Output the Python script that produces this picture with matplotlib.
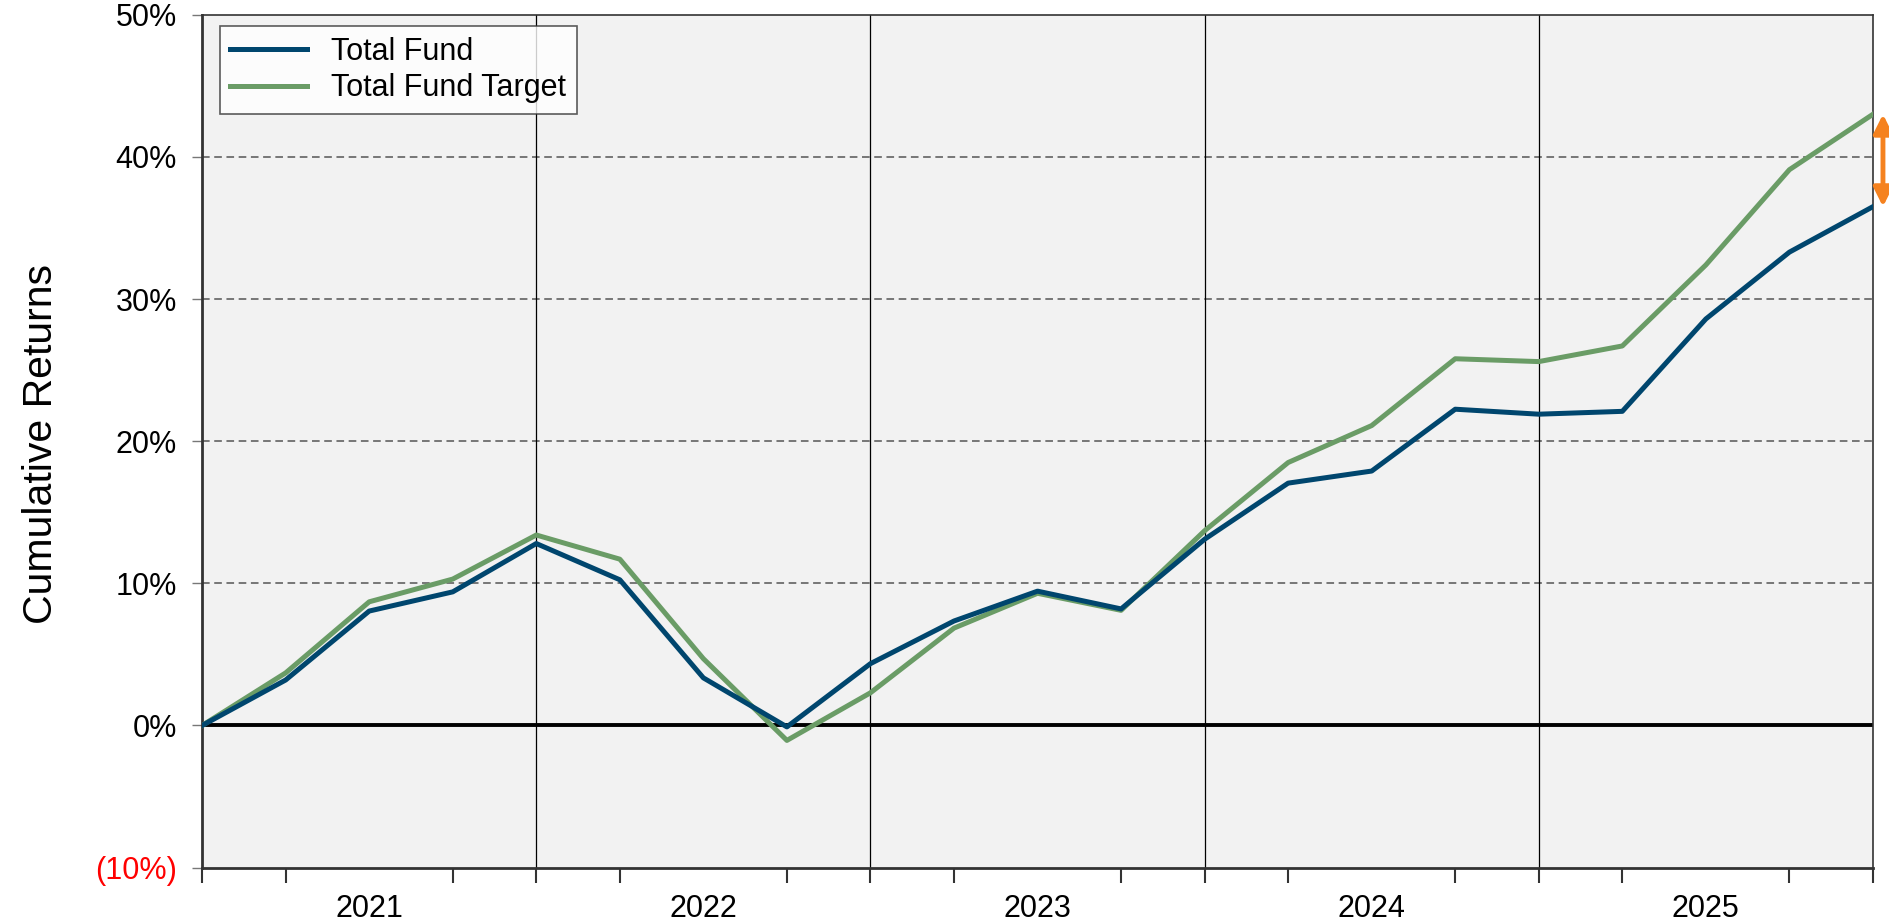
import numpy as np
import matplotlib
matplotlib.use('Agg')
import matplotlib.pyplot as plt
import matplotlib.transforms as mtransforms

plt.rcParams['font.family'] = ['Liberation Sans', 'DejaVu Sans']

# quarter-end cumulative returns (%), start point + 20 quarters 2021-2025
total_fund = [0.0, 3.2, 8.05, 9.4, 12.8, 10.25, 3.35, -0.1, 4.35, 7.35, 9.45,
              8.2, 13.1, 17.05, 17.9, 22.25, 21.9, 22.1, 28.6, 33.3, 36.5]
fund_target = [0.0, 3.7, 8.7, 10.3, 13.4, 11.7, 4.7, -1.05, 2.3, 6.85, 9.3,
               8.1, 13.7, 18.5, 21.1, 25.8, 25.6, 26.7, 32.4, 39.1, 43.0]
years = ['2021', '2022', '2023', '2024', '2025']
y_ticks = [-10, 0, 10, 20, 30, 40, 50]
y_labels = ['(10%)', '0%', '10%', '20%', '30%', '40%', '50%']

blue = '#00466E'
green = '#6A9C66'
orange = '#F5821F'

x = np.arange(len(total_fund))

fig = plt.figure(figsize=(18.89, 9.23), dpi=100)
ax = fig.add_axes([0.107, 0.060, 0.8845, 0.924])
ax.set_facecolor('#F2F2F2')

# grid: dashed horizontals, solid verticals at year ends
for v in [10, 20, 30, 40]:
    ax.axhline(v, color='#555555', lw=1.1, ls=(0, (5, 3)), zorder=1)
for q in [4, 8, 12, 16]:
    ax.axvline(q, color='black', lw=0.9, zorder=1)
ax.axhline(0, color='black', lw=2.8, zorder=2)

ax.plot(x, total_fund, color=blue, lw=3.6, label='Total Fund', zorder=4)
ax.plot(x, fund_target, color=green, lw=3.6, label='Total Fund Target', zorder=3)

ax.set_xlim(0, 20)
ax.set_ylim(-10, 50)

ax.set_yticks(y_ticks)
ax.set_yticklabels(y_labels, fontsize=22)
ax.get_yticklabels()[0].set_color('red')
ax.tick_params(axis='y', length=7, width=1, color='#777777', pad=11)

ax.set_xticks(np.arange(0, 21), minor=True)
ax.set_xticks([2, 6, 10, 14, 18])
ax.set_xticklabels(years, fontsize=22)
ax.tick_params(axis='x', which='major', length=0, pad=19)
ax.tick_params(axis='x', which='minor', length=11, width=1.5, color='#333333')

for s in ax.spines.values():
    s.set_color('#333333')
    s.set_linewidth(1.2)
ax.spines['left'].set_linewidth(2)
ax.spines['bottom'].set_linewidth(2)

ax.set_ylabel('Cumulative Returns', fontsize=29.5)
ax.yaxis.set_label_coords(-0.085, 0.497)

leg = ax.legend(loc='upper left', bbox_to_anchor=(0.005, 0.997), fontsize=22,
                frameon=True, fancybox=False, edgecolor='#333333',
                handlelength=2.5, borderpad=0.35, labelspacing=0.2,
                handletextpad=0.8, borderaxespad=0.3)
leg.get_frame().set_linewidth(1.2)

# gap arrow between fund and target at the last point
trans = mtransforms.blended_transform_factory(ax.transAxes, ax.transData)
ax.annotate('', xy=(1.006, fund_target[-1]), xytext=(1.006, total_fund[-1]),
            xycoords=trans, textcoords=trans,
            arrowprops=dict(arrowstyle='<|-|>', color=orange, lw=3.5,
                            mutation_scale=28, shrinkA=0, shrinkB=0),
            annotation_clip=False)

fig.savefig('out.png', dpi=100)
